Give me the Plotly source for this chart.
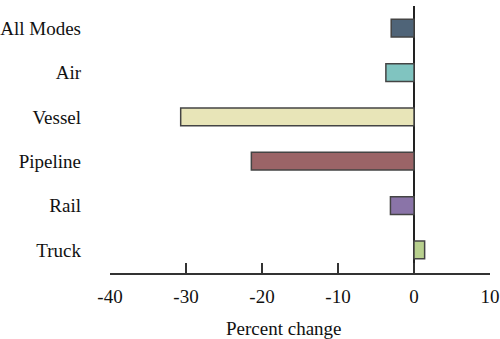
import plotly.graph_objects as go

categories = ["Truck", "Rail", "Pipeline", "Vessel", "Air", "All Modes"]
values = [1.4, -3.1, -21.4, -30.7, -3.7, -3.0]
colors = ["#b8d08e", "#8a74a8", "#9b6467", "#e8e5b8", "#80c4c0", "#4f6478"]
tick_vals = [-40, -30, -20, -10, 0, 10]
tick_text = ["-40", "-30", "-20", "-10", "0", "10"]

fig = go.Figure(go.Bar(
    x=values, y=categories, orientation="h",
    marker=dict(color=colors, line=dict(color="#444444", width=1.5)),
    width=0.4,
))

font = "Liberation Serif, Times New Roman, serif"
fig.update_layout(
    width=500, height=339,
    margin=dict(l=110, r=10, t=6, b=66),
    plot_bgcolor="white", paper_bgcolor="white",
    font=dict(family=font, size=19, color="#111111"),
    showlegend=False,
    xaxis=dict(
        range=[-40, 10], tickvals=tick_vals, ticktext=tick_text,
        ticks="inside", ticklen=10, automargin=False,
        tickwidth=1.5, tickcolor="#333333", showline=True, linecolor="#333333",
        linewidth=1.5, showgrid=False, zeroline=True, zerolinecolor="#222222",
        zerolinewidth=2, ticklabelstandoff=5,
    ),
    yaxis=dict(
        categoryorder="array", categoryarray=categories, automargin=False,
        range=[-0.52, 5.5], showgrid=False, zeroline=False, showline=False,
        ticks="", ticklabelstandoff=28,
    ),
    annotations=[dict(
        text="Percent change", xref="paper", yref="paper",
        x=0.458, y=0, yshift=-55, xanchor="center", yanchor="middle",
        showarrow=False, font=dict(size=19),
    )],
)
fig.write_html("out.html")
